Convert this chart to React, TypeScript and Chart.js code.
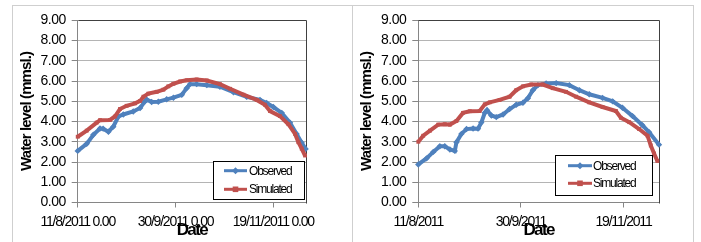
import React, { useEffect, useRef } from "react";
import { Chart, registerables } from "chart.js";

Chart.register(...registerables);

const FONT = '"Liberation Sans", Arial, sans-serif';

// ---- data (days after 11/8/2011, water level in m msl) ----
const seriesNames = ["Observed", "Simulated"];
const xTickDays = [0, 50, 100];
const leftTickLabels = ["11/8/2011 0.00", "30/9/2011 0.00", "19/11/2011 0.00"];
const rightTickLabels = ["11/8/2011", "30/9/2011", "19/11/2011"];
const yAxisTitle = "Water level (mmsl.)";
const xAxisTitle = "Date";

const leftObsDays = [0, 4.6, 8, 11.4, 13, 15.7, 18.2, 20.8, 23.3, 28.4, 31.9, 34.4, 35.3, 37.8, 41.2, 45.5, 48.9, 53.2, 55.7, 57.4, 60.8, 66, 72.7, 79.6, 86.4, 93.2, 96.6, 100, 104.3, 108.5, 111.9, 114.5, 116.5];
const leftObsLevels = [2.55, 2.9, 3.35, 3.66, 3.65, 3.5, 3.75, 4.25, 4.35, 4.5, 4.67, 5.0, 5.08, 4.97, 4.98, 5.1, 5.18, 5.32, 5.65, 5.85, 5.85, 5.8, 5.72, 5.45, 5.22, 5.07, 4.92, 4.72, 4.43, 3.95, 3.39, 2.95, 2.65];

const leftSimDays = [0, 4.6, 9.7, 11.4, 16.5, 19, 21.6, 25, 29.3, 31.9, 33.6, 36.1, 40.4, 43.8, 46.3, 48.9, 52.3, 55.7, 60.8, 66, 72.7, 77.9, 84.7, 91.5, 95.7, 98.3, 103.4, 107.7, 111.1, 112.8, 114.5, 116.2];
const leftSimLevels = [3.25, 3.55, 3.95, 4.07, 4.08, 4.25, 4.62, 4.78, 4.9, 5.02, 5.23, 5.38, 5.47, 5.58, 5.74, 5.87, 5.98, 6.04, 6.08, 6.03, 5.85, 5.62, 5.33, 5.07, 4.83, 4.52, 4.27, 3.87, 3.39, 2.98, 2.66, 2.32];

const rightObsDays = [0, 4, 7.3, 10.5, 12.9, 15.4, 17.8, 18.6, 21, 23.5, 26.7, 29.1, 30.7, 32.4, 33.5, 35.6, 38, 41.3, 44.5, 47.7, 51, 53.4, 55.8, 58.3, 62.3, 67.2, 73.6, 78.5, 83.3, 89.8, 94.7, 99.5, 104.4, 109.2, 112.5, 117.3];
const rightObsLevels = [1.88, 2.18, 2.5, 2.78, 2.78, 2.62, 2.55, 2.98, 3.39, 3.63, 3.66, 3.65, 3.95, 4.43, 4.56, 4.3, 4.22, 4.35, 4.62, 4.83, 4.93, 5.15, 5.55, 5.8, 5.88, 5.9, 5.8, 5.55, 5.35, 5.17, 5.0, 4.68, 4.27, 3.82, 3.47, 2.86];

const rightSimDays = [0, 2.4, 5.7, 9.7, 12.9, 15.4, 18.6, 21.8, 25.1, 29.9, 32.4, 34.8, 39.6, 44.5, 47.7, 51, 55, 60.7, 65.5, 72, 76.9, 83.3, 89.8, 96.3, 98.7, 102.8, 107.6, 111.7, 113.3, 114.9, 116.5];
const rightSimLevels = [3.0, 3.3, 3.55, 3.85, 3.87, 3.85, 4.03, 4.43, 4.51, 4.52, 4.85, 4.95, 5.07, 5.23, 5.55, 5.74, 5.83, 5.83, 5.65, 5.47, 5.23, 4.95, 4.72, 4.52, 4.19, 3.97, 3.63, 3.3, 2.82, 2.42, 2.05];

const BLUE = "#4f81bd";
const RED = "#c0504d";

const toPoints = (days: number[], levels: number[]) => days.map((d, i) => ({ x: d, y: levels[i] }));

function drawMarker(ctx: CanvasRenderingContext2D, style: string, x: number, y: number, r: number, color: string) {
  ctx.fillStyle = color;
  ctx.beginPath();
  if (style === "rectRot") {
    ctx.moveTo(x, y - r);
    ctx.lineTo(x + r, y);
    ctx.lineTo(x, y + r);
    ctx.lineTo(x - r, y);
    ctx.closePath();
  } else {
    ctx.rect(x - r, y - r, 2 * r, 2 * r);
  }
  ctx.fill();
}

// condense tick label text of a scale by wrapping its drawLabels
function condenseLabels(scale: any, spacing: string) {
  if (scale.__condensed) return;
  scale.__condensed = true;
  const orig = scale.drawLabels;
  scale.drawLabels = function (area: any) {
    const ctx = this.ctx;
    ctx.save();
    (ctx as any).letterSpacing = spacing;
    orig.call(this, area);
    ctx.restore();
  };
}

const decorPlugin = {
  id: "decor",
  beforeDatasetsDraw(chart: any) {
    const { ctx, chartArea } = chart;
    ctx.save();
    ctx.strokeStyle = "#404040";
    ctx.lineWidth = 1;
    ctx.beginPath();
    const l = Math.round(chartArea.left) + 0.5;
    const t = Math.round(chartArea.top) + 0.5;
    const r = Math.round(chartArea.right) + 0.5;
    const b = Math.round(chartArea.bottom) + 0.5;
    ctx.moveTo(l, t);
    ctx.lineTo(r, t);
    ctx.lineTo(r, b);
    ctx.stroke();
    ctx.restore();
  },
  afterDraw(chart: any, _args: any, opts: any) {
    const { ctx, chartArea } = chart;
    const { x, y, w, h, rows, lineX0, lineX1, textX, yTitleX, xTitleY } = opts;
    ctx.save();
    // axis titles
    ctx.fillStyle = "#000000";
    ctx.textAlign = "center";
    ctx.textBaseline = "middle";
    ctx.font = `bold 17px ${FONT}`;
    (ctx as any).letterSpacing = "-1.6px";
    ctx.fillText(xAxisTitle, (chartArea.left + chartArea.right) / 2, xTitleY);
    ctx.save();
    ctx.translate(yTitleX, (chartArea.top + chartArea.bottom) / 2);
    ctx.rotate(-Math.PI / 2);
    ctx.font = `bold 15px ${FONT}`;
    (ctx as any).letterSpacing = "-0.9px";
    ctx.fillText(yAxisTitle, 0, 0);
    ctx.restore();

    // legend
    ctx.fillStyle = "#ffffff";
    ctx.fillRect(x, y, w, h);
    ctx.strokeStyle = "#000000";
    ctx.lineWidth = 1;
    ctx.strokeRect(x + 0.5, y + 0.5, w, h);
    const styles = ["rectRot", "rect"];
    const sizes = [3.5, 2.8];
    chart.data.datasets.forEach((ds: any, i: number) => {
      const ry = rows[i];
      ctx.strokeStyle = ds.borderColor;
      ctx.lineWidth = 3;
      ctx.beginPath();
      ctx.moveTo(lineX0, ry);
      ctx.lineTo(lineX1, ry);
      ctx.stroke();
      drawMarker(ctx, styles[i], (lineX0 + lineX1) / 2, ry, sizes[i], ds.borderColor);
      ctx.fillStyle = "#000000";
      ctx.font = `12px ${FONT}`;
      (ctx as any).letterSpacing = "-1.2px";
      ctx.textBaseline = "middle";
      ctx.textAlign = "left";
      ctx.fillText(ds.label, textX, ry + 0.5);
    });
    ctx.restore();
  },
};

type PanelProps = {
  obsDays: number[];
  obsLevels: number[];
  simDays: number[];
  simLevels: number[];
  tickLabels: string[];
  xMax: number;
  yAxisWidth: number;
  padRight: number;
  legend: any;
  left: number;
};

function Panel(p: PanelProps) {
  const ref = useRef<HTMLCanvasElement | null>(null);
  useEffect(() => {
    if (!ref.current) return;
    const chart = new Chart(ref.current, {
      type: "line",
      data: {
        datasets: [
          {
            label: seriesNames[0],
            data: toPoints(p.obsDays, p.obsLevels),
            borderColor: BLUE,
            backgroundColor: BLUE,
            borderWidth: 4,
            pointStyle: "rectRot",
            pointRadius: 3.2,
            pointBorderWidth: 0,
            tension: 0,
            clip: false,
            order: 1,
          },
          {
            label: seriesNames[1],
            data: toPoints(p.simDays, p.simLevels),
            borderColor: RED,
            backgroundColor: RED,
            borderWidth: 4,
            pointStyle: "rect",
            pointRadius: 2.7,
            pointBorderWidth: 0,
            tension: 0,
            clip: false,
            order: 0,
          },
        ],
      },
      options: {
        animation: false,
        responsive: false,
        devicePixelRatio: 1,
        layout: { padding: { left: 0, top: 12, right: p.padRight, bottom: 0 } },
        plugins: {
          legend: { display: false },
          tooltip: { enabled: false },
          decor: p.legend,
        } as any,
        scales: {
          x: {
            type: "linear",
            min: 0,
            max: p.xMax,
            afterBuildTicks: (scale: any) => {
              scale.ticks = xTickDays.map((v) => ({ value: v }));
            },
            afterFit: (scale: any) => {
              scale.height = 39.5;
              condenseLabels(scale, "-1.2px");
            },
            ticks: {
              autoSkip: false,
              maxRotation: 0,
              padding: 6,
              color: "#000",
              font: { family: FONT, size: 14 },
              callback: (v: any) => p.tickLabels[xTickDays.indexOf(v)] ?? "",
            },
            grid: { drawOnChartArea: false, drawTicks: true, tickLength: 5, color: "#868686" },
            border: { display: true, color: "#868686" },
          },
          y: {
            min: 0,
            max: 9,
            afterFit: (scale: any) => {
              scale.width = p.yAxisWidth;
              condenseLabels(scale, "-0.5px");
            },
            ticks: {
              stepSize: 1,
              padding: 6,
              color: "#000",
              font: { family: FONT, size: 14 },
              callback: (v: any) => Number(v).toFixed(2),
            },
            grid: { color: "#b4b4b4", tickLength: 6, tickColor: "#868686" },
            border: { display: true, color: "#868686" },
          },
        },
      },
      plugins: [decorPlugin],
    } as any);
    return () => chart.destroy();
  }, []);
  return (
    <canvas
      ref={ref}
      width={340}
      height={236}
      style={{ position: "absolute", left: p.left, top: 6, width: 340, height: 236 }}
    />
  );
}

export default function App() {
  return (
    <div style={{ position: "absolute", left: 0, top: 0, width: 701, height: 242, overflow: "hidden", background: "#fff" }}>
      <div style={{ position: "absolute", left: 12, top: 5, width: 341, height: 260, boxSizing: "border-box", borderLeft: "1px solid #cfcfcf", borderTop: "1px solid #cfcfcf", borderRight: "1px solid #cfcfcf" }} />
      <div style={{ position: "absolute", left: 352, top: 5, width: 342, height: 260, boxSizing: "border-box", borderTop: "1px solid #cfcfcf", borderRight: "1px solid #cfcfcf" }} />
      <Panel
        obsDays={leftObsDays}
        obsLevels={leftObsLevels}
        simDays={leftSimDays}
        simLevels={leftSimLevels}
        tickLabels={leftTickLabels}
        xMax={116.7}
        yAxisWidth={65.7}
        padRight={46}
        left={12}
        legend={{ x: 201, y: 155, w: 91, h: 38, rows: [164.7, 183.3], lineX0: 212, lineX1: 235, textX: 237, yTitleX: 14.7, xTitleY: 224.5 }}
      />
      <Panel
        obsDays={rightObsDays}
        obsLevels={rightObsLevels}
        simDays={rightSimDays}
        simLevels={rightSimLevels}
        tickLabels={rightTickLabels}
        xMax={117.3}
        yAxisWidth={65.3}
        padRight={34}
        left={353}
        legend={{ x: 202, y: 149, w: 97, h: 40, rows: [159.7, 177.3], lineX0: 215, lineX1: 239, textX: 240, yTitleX: 13.7, xTitleY: 224.5 }}
      />
    </div>
  );
}
